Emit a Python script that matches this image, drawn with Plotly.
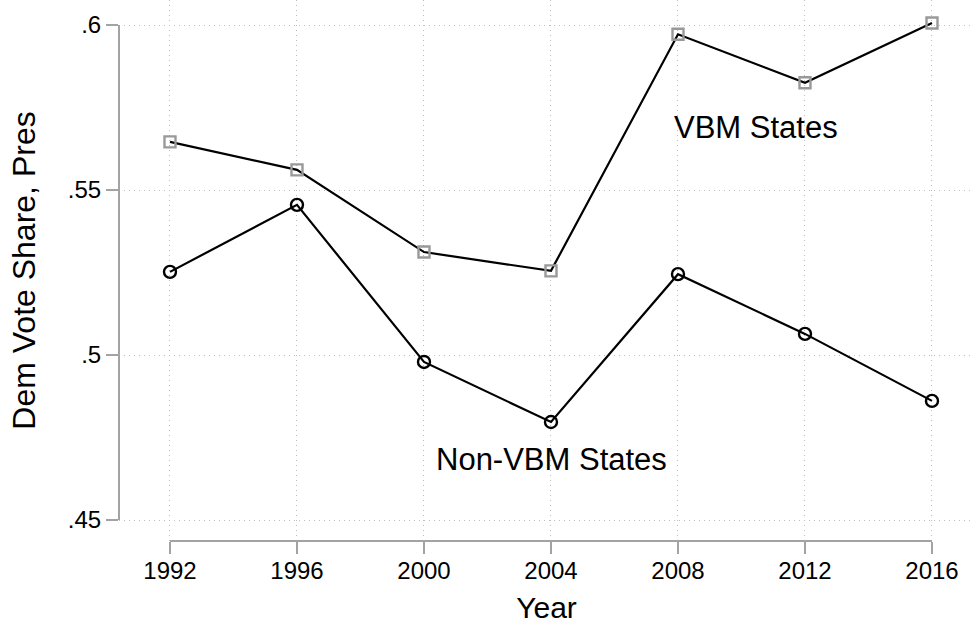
import plotly.graph_objects as go

years = [1992, 1996, 2000, 2004, 2008, 2012, 2016]
vbm_share = [0.5646, 0.5561, 0.5312, 0.5255, 0.5972, 0.5825, 0.6006]
nonvbm_share = [0.5252, 0.5455, 0.4979, 0.4797, 0.5245, 0.5064, 0.4861]
y_ticks = [0.45, 0.50, 0.55, 0.60]
y_tick_labels = [".45", ".5", ".55", ".6"]

FONT = "Liberation Sans, Arial, Helvetica, sans-serif"
AXIS_GRAY = "#a3a3a3"
GRID_GRAY = "#bdbdbd"

fig = go.Figure()
fig.add_trace(go.Scatter(
    x=years, y=vbm_share, mode="lines+markers", name="VBM States",
    line=dict(color="black", width=2.2),
    marker=dict(symbol="square-open", size=11, color="#999999", line=dict(width=2.4, color="#999999")),
))
fig.add_trace(go.Scatter(
    x=years, y=nonvbm_share, mode="lines+markers", name="Non-VBM States",
    line=dict(color="black", width=2.2),
    marker=dict(symbol="circle-open", size=12, color="black", line=dict(width=2.4, color="black")),
))

fig.add_annotation(x=2007.8, y=0.5688, xref="x", yref="y", text="VBM States",
                   showarrow=False, xanchor="left", yanchor="middle",
                   font=dict(family=FONT, size=31, color="black"))
fig.add_annotation(x=2000.3, y=0.4682, xref="x", yref="y", text="Non-VBM States",
                   showarrow=False, xanchor="left", yanchor="middle",
                   font=dict(family=FONT, size=31, color="black"))

# Stata-style axis lines spanning only the tick range
fig.add_shape(type="line", xref="x", yref="paper", x0=years[0], x1=years[-1], y0=0, y1=0,
              line=dict(color=AXIS_GRAY, width=2), layer="above")
fig.add_shape(type="line", xref="paper", yref="y", x0=0, x1=0, y0=y_ticks[0], y1=y_ticks[-1],
              line=dict(color=AXIS_GRAY, width=2), layer="above")

fig.update_layout(
    width=974, height=626,
    margin=dict(l=119, r=0, t=0, b=85),
    paper_bgcolor="white", plot_bgcolor="white",
    showlegend=False,
    font=dict(family=FONT, color="black"),
)
fig.update_xaxes(
    range=[1990.394, 2017.323],
    tickmode="array", tickvals=years, ticktext=[str(y) for y in years],
    ticks="outside", ticklen=12, tickwidth=2, tickcolor=AXIS_GRAY,
    ticklabelstandoff=-4,
    showline=False, zeroline=False,
    showgrid=True, gridcolor=GRID_GRAY, gridwidth=1, griddash="1px,4px",
    tickfont=dict(family=FONT, size=24, color="black"),
    title=dict(text="Year", font=dict(family=FONT, size=30, color="black"), standoff=14),
)
fig.update_yaxes(
    range=[0.44364, 0.60758],
    tickmode="array", tickvals=y_ticks, ticktext=y_tick_labels,
    ticks="outside", ticklen=12, tickwidth=2, tickcolor=AXIS_GRAY,
    showline=False, zeroline=False,
    showgrid=True, gridcolor=GRID_GRAY, gridwidth=1, griddash="1px,4px",
    tickfont=dict(family=FONT, size=24, color="black"),
    title=dict(text="Dem Vote Share, Pres", font=dict(family=FONT, size=32, color="black"), standoff=22),
)

fig.write_html("out.html", config={"displayModeBar": False},
               post_script="document.body.style.margin='0';")
